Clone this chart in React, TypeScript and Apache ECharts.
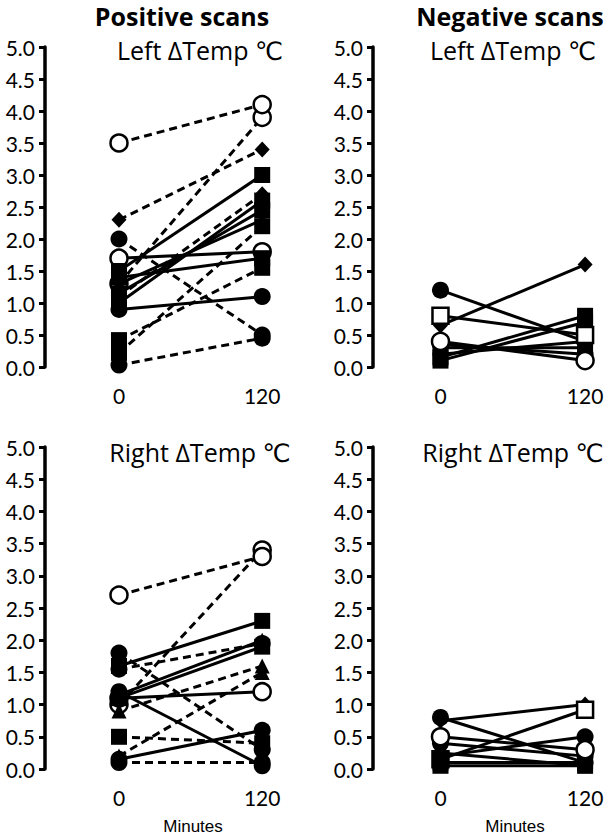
import React, { useEffect, useRef } from "react";
import * as echarts from "echarts";

// Time points (minutes)
const timePoints = [0, 120];
const xTickLabels = [0, 120];

// Positive scans, Left ΔTemp (°C)
const plStart = [1.3, 3.5, 2.3, 2.0, 1.7, 1.5, 1.3, 1.0, 1.1, 1.4, 1.15, 0.22, 0.42, 0.9, 0.03];
const plEnd = [3.9, 4.1, 3.4, 0.5, 1.8, 3.0, 2.3, 2.6, 2.7, 1.7, 2.45, 2.2, 1.55, 1.1, 0.45];
const plMarker = ["openCircle", "openCircle", "diamond", "circle", "openCircle", "square", "triangle", "square", "diamond", "square", "square", "square", "square", "circle", "circle"];
const plLine = ["dashed", "dashed", "dashed", "dashed", "solid", "solid", "solid", "solid", "dashed", "solid", "solid", "dashed", "dashed", "solid", "dashed"];

// Negative scans, Left ΔTemp (°C)
const nlStart = [1.2, 0.65, 0.15, 0.1, 0.3, 0.35, 0.2, 0.8, 0.4];
const nlEnd = [0.4, 1.6, 0.8, 0.7, 0.3, 0.2, 0.4, 0.5, 0.1];
const nlMarker = ["circle", "diamond", "square", "square", "square", "circle", "triangle", "openSquare", "openCircle"];
const nlLine = ["solid", "solid", "solid", "solid", "solid", "solid", "solid", "solid", "solid"];

// Positive scans, Right ΔTemp (°C)
const prStart = [1.0, 1.1, 2.7, 1.6, 1.55, 1.8, 0.9, 0.2, 0.5, 0.1, 1.1, 1.15, 1.2, 0.15];
const prEnd = [3.4, 1.2, 3.3, 2.3, 1.95, 0.3, 1.6, 1.5, 0.4, 0.1, 1.9, 2.0, 0.05, 0.6];
const prMarker = ["openCircle", "openCircle", "openCircle", "square", "circle", "circle", "triangle", "triangle", "square", "circle", "square", "triangle", "circle", "circle"];
const prLine = ["dashed", "solid", "dashed", "solid", "dashed", "dashed", "dashed", "dashed", "dashed", "dashed", "solid", "solid", "solid", "solid"];

// Negative scans, Right ΔTemp (°C)
const nrStart = [0.75, 0.15, 0.8, 0.2, 0.1, 0.05, 0.25, 0.4, 0.5];
const nrEnd = [1.0, 0.92, 0.1, 0.5, 0.1, 0.05, 0.05, 0.2, 0.3];
const nrMarker = ["diamond", "openSquare", "circle", "circle", "square", "square", "triangle", "circle", "openCircle"];
const nrLine = ["solid", "solid", "solid", "solid", "solid", "solid", "solid", "solid", "solid"];

const panelTitles = ["Left ΔTemp ℃", "Left ΔTemp ℃", "Right ΔTemp ℃", "Right ΔTemp ℃"];
const columnTitles = ["Positive scans", "Negative scans"];
const xAxisName = "Minutes";

const FONT = "Lato, 'DejaVu Sans', sans-serif";
const TITLE_FONT = "'Open Sans', 'DejaVu Sans', sans-serif";

function symbolFor(kind: string) {
  const open = kind === "openCircle" || kind === "openSquare";
  let symbol = "circle";
  let size: number | number[] = 17;
  if (kind === "square" || kind === "openSquare") { symbol = "rect"; size = 16; }
  if (kind === "diamond") { symbol = "diamond"; size = [15, 16]; }
  if (kind === "triangle") { symbol = "triangle"; size = 15; }
  const itemStyle = open
    ? { color: "#fff", borderColor: "#000", borderWidth: 2.5, opacity: 1 }
    : { color: "#000", borderColor: "#000", borderWidth: 0, opacity: 1 };
  return { symbol, size, itemStyle };
}

export default function App() {
  const ref = useRef<HTMLDivElement>(null);
  useEffect(() => {
    const chart = echarts.init(ref.current!, null, { renderer: "svg" });
    const panels = [
      { start: plStart, end: plEnd, marker: plMarker, line: plLine, grid: { left: 45, top: 47, width: 253, height: 320 }, xmin: -62, xmax: 150 },
      { start: nlStart, end: nlEnd, marker: nlMarker, line: nlLine, grid: { left: 373, top: 47, width: 241, height: 320 }, xmin: -56, xmax: 144 },
      { start: prStart, end: prEnd, marker: prMarker, line: prLine, grid: { left: 45, top: 447, width: 253, height: 322 }, xmin: -62, xmax: 150 },
      { start: nrStart, end: nrEnd, marker: nrMarker, line: nrLine, grid: { left: 373, top: 447, width: 241, height: 322 }, xmin: -56, xmax: 144 },
    ];
    const grids = panels.map((p) => ({ ...p.grid, containLabel: false, outerBoundsMode: "none" }));
    const xAxes = panels.map((p, i) => ({
      type: "value",
      gridIndex: i,
      min: p.xmin,
      max: p.xmax,
      axisLine: { show: false, onZero: false },
      axisTick: { show: false },
      splitLine: { show: false },
      axisLabel: {
        customValues: xTickLabels,
        color: "#000",
        fontSize: 21,
        fontFamily: FONT,
        margin: 18,
        formatter: (v: number) => String(v),
      },
    }));
    const yAxes = panels.map((p, i) => ({
      type: "value",
      gridIndex: i,
      min: 0,
      max: 5,
      interval: 0.5,
      axisLine: { show: true, onZero: false, lineStyle: { color: "#000", width: 3.5 } },
      axisTick: { show: true, inside: false, length: 6, lineStyle: { color: "#000", width: 3 } },
      splitLine: { show: false },
      axisLabel: {
        color: "#000",
        fontSize: 21,
        fontFamily: FONT,
        margin: 10,
        formatter: (v: number) => v.toFixed(1),
      },
    }));
    const series: any[] = [];
    panels.forEach((p, i) => {
      p.start.forEach((s, k) => {
        const sym = symbolFor(p.marker[k]);
        series.push({
          type: "line",
          xAxisIndex: i,
          yAxisIndex: i,
          data: [
            [timePoints[0], s],
            [timePoints[1], p.end[k]],
          ],
          symbol: sym.symbol,
          symbolSize: sym.size,
          showSymbol: true,
          showAllSymbol: true,
          itemStyle: sym.itemStyle,
          lineStyle: { color: "#000", width: 3, type: p.line[k] === "dashed" ? [8, 5] : "solid" },
          silent: true,
          animation: false,
        });
      });
    });
    const titleCenters = [
      [200, 50],
      [513, 50],
      [200, 452],
      [513, 452],
    ];
    const graphic: any[] = [];
    panelTitles.forEach((t, i) => {
      graphic.push({
        type: "text",
        x: titleCenters[i][0],
        y: titleCenters[i][1],
        silent: true,
        style: { text: t, fill: "#000", font: `25px ${TITLE_FONT}`, textAlign: "center", textVerticalAlign: "middle", align: "center", verticalAlign: "middle" },
      });
    });
    [[182, 16], [510, 16]].forEach((c, i) => {
      graphic.push({
        type: "text",
        x: c[0],
        y: c[1],
        silent: true,
        style: { text: columnTitles[i], fill: "#000", font: `bold 25px ${TITLE_FONT}`, textAlign: "center", textVerticalAlign: "middle", align: "center", verticalAlign: "middle" },
      });
    });
    [[193, 826], [515, 826]].forEach((c) => {
      graphic.push({
        type: "text",
        x: c[0],
        y: c[1],
        silent: true,
        style: { text: xAxisName, fill: "#000", font: `17px 'Liberation Sans', Arial, sans-serif`, textAlign: "center", textVerticalAlign: "middle", align: "center", verticalAlign: "middle" },
      });
    });
    chart.setOption({
      animation: false,
      backgroundColor: "#fff",
      grid: grids,
      xAxis: xAxes,
      yAxis: yAxes,
      series,
      graphic,
    });
    return () => chart.dispose();
  }, []);
  return <div ref={ref} style={{ position: "fixed", left: 0, top: 0, width: 614, height: 839, background: "#fff" }} />;
}
